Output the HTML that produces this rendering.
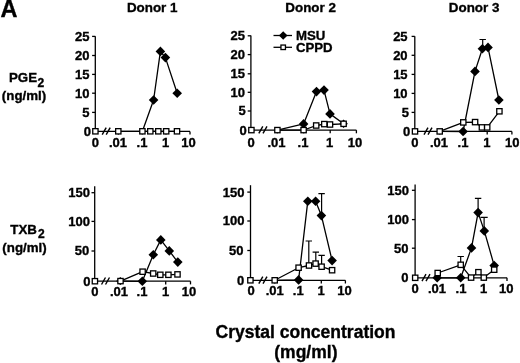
<!DOCTYPE html>
<html><head><meta charset="utf-8"><title>Figure</title>
<style>
html,body{margin:0;padding:0;background:#fff;}
body{width:520px;height:363px;overflow:hidden;}
svg{display:block;}
text{font-family:"Liberation Sans", Arial, Helvetica, sans-serif;font-weight:bold;fill:#000;stroke:#000;stroke-width:0.35px;}
.tl{font-size:13px;}
.lg{font-size:13.2px;}
.hd{font-size:13.4px;}
.yl{font-size:13.3px;}
.xt{font-size:17.5px;}
.big{font-size:23.5px;}
</style></head>
<body>
<svg width="520" height="363" viewBox="0 0 520 363">
<rect width="520" height="363" fill="#fff"/>
<text x="0.4" y="17.2" class="big">A</text>
<text x="152.2" y="11.8" text-anchor="middle" class="hd">Donor 1</text>
<text x="310.6" y="11.6" text-anchor="middle" class="hd">Donor 2</text>
<text x="474.1" y="11.8" text-anchor="middle" class="hd">Donor 3</text>
<text x="9" y="82" class="yl">PGE<tspan font-size="12" dx="0.4" dy="4.6">2</tspan></text>
<text x="24" y="99.5" text-anchor="middle" class="yl">(ng/ml)</text>
<text x="10.3" y="234.1" class="yl">TXB<tspan font-size="12" dx="1.2" dy="3.6">2</tspan></text>
<text x="24.5" y="252.3" text-anchor="middle" class="yl">(ng/ml)</text>
<text x="305.5" y="337.7" text-anchor="middle" class="xt">Crystal concentration</text>
<text x="305.9" y="357.5" text-anchor="middle" class="xt">(mg/ml)</text>
<path d="M95.3 36.2V131.4" stroke="#000" stroke-width="1.3" fill="none"/>
<text x="91" y="135.8" text-anchor="end" class="tl">0</text>
<path d="M92.1 112.4H95.3" stroke="#000" stroke-width="1.3"/>
<text x="89.4" y="116.8" text-anchor="end" class="tl">5</text>
<path d="M92.1 93.2H95.3" stroke="#000" stroke-width="1.3"/>
<text x="89.4" y="97.6" text-anchor="end" class="tl">10</text>
<path d="M92.1 74.4H95.3" stroke="#000" stroke-width="1.3"/>
<text x="89.4" y="78.8" text-anchor="end" class="tl">15</text>
<path d="M92.1 55.5H95.3" stroke="#000" stroke-width="1.3"/>
<text x="89.4" y="59.9" text-anchor="end" class="tl">20</text>
<path d="M92.1 36.4H95.3" stroke="#000" stroke-width="1.3"/>
<text x="89.4" y="40.8" text-anchor="end" class="tl">25</text>
<path d="M95.3 131.4H190" stroke="#000" stroke-width="1.3" fill="none"/>
<path d="M118.4 131.4V134.6" stroke="#000" stroke-width="1.3"/>
<path d="M142.3 131.4V134.6" stroke="#000" stroke-width="1.3"/>
<path d="M166 131.4V134.6" stroke="#000" stroke-width="1.3"/>
<path d="M190 131.4V134.6" stroke="#000" stroke-width="1.3"/>
<path d="M102.2 134.7L106.2 127.7" stroke="#000" stroke-width="1.4"/>
<path d="M106.2 134.7L110.2 127.7" stroke="#000" stroke-width="1.4"/>
<text x="95.3" y="146.8" text-anchor="middle" class="tl">0</text>
<text x="118" y="146.8" text-anchor="middle" class="tl">.01</text>
<text x="142" y="146.8" text-anchor="middle" class="tl">.1</text>
<text x="165.5" y="146.8" text-anchor="middle" class="tl">1</text>
<text x="188.5" y="146.8" text-anchor="middle" class="tl">10</text>
<polyline points="142.4,131.3 153.6,100 160.4,51.4 165.4,57.6 177.2,93.2" fill="none" stroke="#000" stroke-width="1.3" stroke-linejoin="round"/>
<polyline points="118.3,131.3 142.4,131.3 150.3,131.3 158.3,131.3 166.2,131.3 177,131.3" fill="none" stroke="#000" stroke-width="1.3" stroke-linejoin="round"/>
<path d="M153.6 95.2L158.4 100L153.6 104.8L148.8 100Z" fill="#000"/>
<path d="M160.4 46.6L165.2 51.4L160.4 56.2L155.6 51.4Z" fill="#000"/>
<path d="M165.4 52.8L170.2 57.6L165.4 62.4L160.6 57.6Z" fill="#000"/>
<path d="M177.2 88.4L182 93.2L177.2 98L172.4 93.2Z" fill="#000"/>
<rect x="92.75" y="128.65" width="5.3" height="5.3" fill="#fff" stroke="#000" stroke-width="1.3"/>
<rect x="115.65" y="128.65" width="5.3" height="5.3" fill="#fff" stroke="#000" stroke-width="1.3"/>
<rect x="139.75" y="128.65" width="5.3" height="5.3" fill="#fff" stroke="#000" stroke-width="1.3"/>
<rect x="147.65" y="128.65" width="5.3" height="5.3" fill="#fff" stroke="#000" stroke-width="1.3"/>
<rect x="155.65" y="128.65" width="5.3" height="5.3" fill="#fff" stroke="#000" stroke-width="1.3"/>
<rect x="163.55" y="128.65" width="5.3" height="5.3" fill="#fff" stroke="#000" stroke-width="1.3"/>
<rect x="174.35" y="128.65" width="5.3" height="5.3" fill="#fff" stroke="#000" stroke-width="1.3"/>
<path d="M250.9 35.5V130.1" stroke="#000" stroke-width="1.3" fill="none"/>
<text x="246.8" y="134.5" text-anchor="end" class="tl">0</text>
<path d="M247.7 111H250.9" stroke="#000" stroke-width="1.3"/>
<text x="245.7" y="115.4" text-anchor="end" class="tl">5</text>
<path d="M247.7 92.3H250.9" stroke="#000" stroke-width="1.3"/>
<text x="244.9" y="96.7" text-anchor="end" class="tl">10</text>
<path d="M247.7 73.8H250.9" stroke="#000" stroke-width="1.3"/>
<text x="244.9" y="78.2" text-anchor="end" class="tl">15</text>
<path d="M247.7 54.6H250.9" stroke="#000" stroke-width="1.3"/>
<text x="244.9" y="59" text-anchor="end" class="tl">20</text>
<path d="M247.7 35.8H250.9" stroke="#000" stroke-width="1.3"/>
<text x="244.9" y="40.2" text-anchor="end" class="tl">25</text>
<path d="M250.9 130.1H356.4" stroke="#000" stroke-width="1.3" fill="none"/>
<path d="M277.4 130.1V133.3" stroke="#000" stroke-width="1.3"/>
<path d="M303.6 130.1V133.3" stroke="#000" stroke-width="1.3"/>
<path d="M330.2 130.1V133.3" stroke="#000" stroke-width="1.3"/>
<path d="M356.4 130.1V133.3" stroke="#000" stroke-width="1.3"/>
<path d="M258.8 133.4L262.8 126.4" stroke="#000" stroke-width="1.4"/>
<path d="M263 133.4L267 126.4" stroke="#000" stroke-width="1.4"/>
<text x="251" y="146.8" text-anchor="middle" class="tl">0</text>
<text x="276.5" y="146.8" text-anchor="middle" class="tl">.01</text>
<text x="303" y="146.8" text-anchor="middle" class="tl">.1</text>
<text x="329.5" y="146.8" text-anchor="middle" class="tl">1</text>
<text x="355" y="146.8" text-anchor="middle" class="tl">10</text>
<polyline points="277.4,130.1 303.6,123.9 316.5,91.6 324,90.1 330,113.9 343.6,123.8" fill="none" stroke="#000" stroke-width="1.3" stroke-linejoin="round"/>
<polyline points="277.4,130.1 303.6,130.1 316.2,125.5 324.3,124.1 330,124.5 343.6,123.8" fill="none" stroke="#000" stroke-width="1.3" stroke-linejoin="round"/>
<path d="M303.6 119.1L308.4 123.9L303.6 128.7L298.8 123.9Z" fill="#000"/>
<path d="M316.5 86.8L321.3 91.6L316.5 96.4L311.7 91.6Z" fill="#000"/>
<path d="M324 85.3L328.8 90.1L324 94.9L319.2 90.1Z" fill="#000"/>
<path d="M330 109.1L334.8 113.9L330 118.7L325.2 113.9Z" fill="#000"/>
<path d="M343.6 119.6L347.8 123.8L343.6 128L339.4 123.8Z" fill="#000"/>
<rect x="248.75" y="127.45" width="5.3" height="5.3" fill="#fff" stroke="#000" stroke-width="1.3"/>
<rect x="274.75" y="127.45" width="5.3" height="5.3" fill="#fff" stroke="#000" stroke-width="1.3"/>
<rect x="300.95" y="127.45" width="5.3" height="5.3" fill="#fff" stroke="#000" stroke-width="1.3"/>
<rect x="313.55" y="122.85" width="5.3" height="5.3" fill="#fff" stroke="#000" stroke-width="1.3"/>
<rect x="321.65" y="121.45" width="5.3" height="5.3" fill="#fff" stroke="#000" stroke-width="1.3"/>
<rect x="327.35" y="121.85" width="5.3" height="5.3" fill="#fff" stroke="#000" stroke-width="1.3"/>
<rect x="340.95" y="121.15" width="5.3" height="5.3" fill="#fff" stroke="#000" stroke-width="1.3"/>
<path d="M414.8 36.3V131.4" stroke="#000" stroke-width="1.3" fill="none"/>
<text x="410.2" y="135.8" text-anchor="end" class="tl">0</text>
<path d="M411.6 112.4H414.8" stroke="#000" stroke-width="1.3"/>
<text x="408.9" y="116.8" text-anchor="end" class="tl">5</text>
<path d="M411.6 93.4H414.8" stroke="#000" stroke-width="1.3"/>
<text x="407.6" y="97.8" text-anchor="end" class="tl">10</text>
<path d="M411.6 74.4H414.8" stroke="#000" stroke-width="1.3"/>
<text x="407.6" y="78.8" text-anchor="end" class="tl">15</text>
<path d="M411.6 55.3H414.8" stroke="#000" stroke-width="1.3"/>
<text x="407.6" y="59.7" text-anchor="end" class="tl">20</text>
<path d="M411.6 36.4H414.8" stroke="#000" stroke-width="1.3"/>
<text x="407.6" y="40.8" text-anchor="end" class="tl">25</text>
<path d="M414.8 131.4H511.9" stroke="#000" stroke-width="1.3" fill="none"/>
<path d="M439.7 131.4V134.6" stroke="#000" stroke-width="1.3"/>
<path d="M463.3 131.4V134.6" stroke="#000" stroke-width="1.3"/>
<path d="M487.2 131.4V134.6" stroke="#000" stroke-width="1.3"/>
<path d="M511.9 131.4V134.6" stroke="#000" stroke-width="1.3"/>
<path d="M424 134.7L428 127.7" stroke="#000" stroke-width="1.4"/>
<path d="M428 134.7L432 127.7" stroke="#000" stroke-width="1.4"/>
<text x="414.8" y="147.2" text-anchor="middle" class="tl">0</text>
<text x="439" y="147.2" text-anchor="middle" class="tl">.01</text>
<text x="463" y="147.2" text-anchor="middle" class="tl">.1</text>
<text x="486.8" y="147.2" text-anchor="middle" class="tl">1</text>
<text x="512.2" y="147.2" text-anchor="middle" class="tl">10</text>
<path d="M482.7 48.8V39.5M479.5 39.5H485.9" stroke="#000" stroke-width="1.2" fill="none"/>
<polyline points="439.7,131.4 463.1,131.5 475,71.4 482.4,48.8 488,47.4 498.9,100" fill="none" stroke="#000" stroke-width="1.3" stroke-linejoin="round"/>
<polyline points="439.7,131.4 463.3,122.4 475.1,122.1 481.9,127.4 487.2,127.4 499.4,111.3" fill="none" stroke="#000" stroke-width="1.3" stroke-linejoin="round"/>
<path d="M463.1 126.7L467.9 131.5L463.1 136.3L458.3 131.5Z" fill="#000"/>
<path d="M475 66.6L479.8 71.4L475 76.2L470.2 71.4Z" fill="#000"/>
<path d="M482.4 44L487.2 48.8L482.4 53.6L477.6 48.8Z" fill="#000"/>
<path d="M488 42.6L492.8 47.4L488 52.2L483.2 47.4Z" fill="#000"/>
<path d="M498.9 95.2L503.7 100L498.9 104.8L494.1 100Z" fill="#000"/>
<rect x="412.35" y="128.75" width="5.3" height="5.3" fill="#fff" stroke="#000" stroke-width="1.3"/>
<rect x="437.05" y="128.75" width="5.3" height="5.3" fill="#fff" stroke="#000" stroke-width="1.3"/>
<rect x="460.65" y="119.75" width="5.3" height="5.3" fill="#fff" stroke="#000" stroke-width="1.3"/>
<rect x="472.45" y="119.45" width="5.3" height="5.3" fill="#fff" stroke="#000" stroke-width="1.3"/>
<rect x="479.25" y="124.75" width="5.3" height="5.3" fill="#fff" stroke="#000" stroke-width="1.3"/>
<rect x="484.55" y="124.75" width="5.3" height="5.3" fill="#fff" stroke="#000" stroke-width="1.3"/>
<rect x="496.75" y="108.65" width="5.3" height="5.3" fill="#fff" stroke="#000" stroke-width="1.3"/>
<path d="M94.7 186.2V281.2" stroke="#000" stroke-width="1.3" fill="none"/>
<text x="90.6" y="285.6" text-anchor="end" class="tl">0</text>
<path d="M91.5 251H94.7" stroke="#000" stroke-width="1.3"/>
<text x="89.2" y="255.4" text-anchor="end" class="tl">50</text>
<path d="M91.5 221.4H94.7" stroke="#000" stroke-width="1.3"/>
<text x="90" y="225.8" text-anchor="end" class="tl">100</text>
<path d="M91.5 192.7H94.7" stroke="#000" stroke-width="1.3"/>
<text x="90" y="197.1" text-anchor="end" class="tl">150</text>
<path d="M94.7 281.2H190.5" stroke="#000" stroke-width="1.3" fill="none"/>
<path d="M120.5 281.2V284.4" stroke="#000" stroke-width="1.3"/>
<path d="M142.5 281.2V284.4" stroke="#000" stroke-width="1.3"/>
<path d="M165.7 281.2V284.4" stroke="#000" stroke-width="1.3"/>
<path d="M190.5 281.2V284.4" stroke="#000" stroke-width="1.3"/>
<path d="M101.5 284.5L105.5 277.5" stroke="#000" stroke-width="1.4"/>
<path d="M105.5 284.5L109.5 277.5" stroke="#000" stroke-width="1.4"/>
<text x="94.8" y="295.8" text-anchor="middle" class="tl">0</text>
<text x="119" y="295.8" text-anchor="middle" class="tl">.01</text>
<text x="142" y="295.8" text-anchor="middle" class="tl">.1</text>
<text x="165.5" y="295.8" text-anchor="middle" class="tl">1</text>
<text x="189" y="295.8" text-anchor="middle" class="tl">10</text>
<polyline points="120.5,281.1 142.3,281.3 153.3,254.7 160.8,239.9 169.3,250.9 177.8,262.1" fill="none" stroke="#000" stroke-width="1.3" stroke-linejoin="round"/>
<polyline points="120.5,281.1 142.6,271.7 153.2,273.5 160.3,274.8 168.4,274.8 177.5,274.4" fill="none" stroke="#000" stroke-width="1.3" stroke-linejoin="round"/>
<path d="M120.3 276.9L124.4 281L120.3 285.1L116.2 281Z" fill="#000"/>
<path d="M142.3 276.5L147.1 281.3L142.3 286.1L137.5 281.3Z" fill="#000"/>
<path d="M153.3 249.9L158.1 254.7L153.3 259.5L148.5 254.7Z" fill="#000"/>
<path d="M160.8 235.1L165.6 239.9L160.8 244.7L156 239.9Z" fill="#000"/>
<path d="M169.3 246.1L174.1 250.9L169.3 255.7L164.5 250.9Z" fill="#000"/>
<path d="M177.8 257.3L182.6 262.1L177.8 266.9L173 262.1Z" fill="#000"/>
<rect x="92.25" y="278.55" width="5.3" height="5.3" fill="#fff" stroke="#000" stroke-width="1.3"/>
<rect x="117.85" y="278.45" width="5.3" height="5.3" fill="#fff" stroke="#000" stroke-width="1.3"/>
<rect x="139.95" y="269.05" width="5.3" height="5.3" fill="#fff" stroke="#000" stroke-width="1.3"/>
<rect x="150.55" y="270.85" width="5.3" height="5.3" fill="#fff" stroke="#000" stroke-width="1.3"/>
<rect x="157.65" y="272.15" width="5.3" height="5.3" fill="#fff" stroke="#000" stroke-width="1.3"/>
<rect x="165.75" y="272.15" width="5.3" height="5.3" fill="#fff" stroke="#000" stroke-width="1.3"/>
<rect x="174.85" y="271.75" width="5.3" height="5.3" fill="#fff" stroke="#000" stroke-width="1.3"/>
<path d="M250.5 185.2V280.3" stroke="#000" stroke-width="1.3" fill="none"/>
<text x="244.2" y="284.7" text-anchor="end" class="tl">0</text>
<path d="M247.3 250.5H250.5" stroke="#000" stroke-width="1.3"/>
<text x="243.5" y="254.9" text-anchor="end" class="tl">50</text>
<path d="M247.3 221H250.5" stroke="#000" stroke-width="1.3"/>
<text x="244.5" y="225.4" text-anchor="end" class="tl">100</text>
<path d="M247.3 192.1H250.5" stroke="#000" stroke-width="1.3"/>
<text x="244.5" y="196.5" text-anchor="end" class="tl">150</text>
<path d="M250.5 280.3H345.4" stroke="#000" stroke-width="1.3" fill="none"/>
<path d="M274.7 280.3V283.5" stroke="#000" stroke-width="1.3"/>
<path d="M298.6 280.3V283.5" stroke="#000" stroke-width="1.3"/>
<path d="M321.3 280.3V283.5" stroke="#000" stroke-width="1.3"/>
<path d="M345.4 280.3V283.5" stroke="#000" stroke-width="1.3"/>
<path d="M258.8 283.6L262.8 276.6" stroke="#000" stroke-width="1.4"/>
<path d="M263 283.6L267 276.6" stroke="#000" stroke-width="1.4"/>
<text x="251.1" y="294.7" text-anchor="middle" class="tl">0</text>
<text x="274.8" y="294.7" text-anchor="middle" class="tl">.01</text>
<text x="298.2" y="294.7" text-anchor="middle" class="tl">.1</text>
<text x="321.2" y="294.7" text-anchor="middle" class="tl">1</text>
<text x="344.6" y="294.7" text-anchor="middle" class="tl">10</text>
<path d="M308.8 265.5V241M305.6 241H312" stroke="#000" stroke-width="1.2" fill="none"/>
<path d="M315.8 263.6V252.2M312.6 252.2H319" stroke="#000" stroke-width="1.2" fill="none"/>
<path d="M321.6 266.7V255.4M318.4 255.4H324.8" stroke="#000" stroke-width="1.2" fill="none"/>
<path d="M321.6 215.6V193.6M318.4 193.6H324.8" stroke="#000" stroke-width="1.2" fill="none"/>
<polyline points="274.7,280.3 298.6,279.9 307.8,201.2 315.6,201.2 321.4,215.6 332.1,260.6" fill="none" stroke="#000" stroke-width="1.3" stroke-linejoin="round"/>
<polyline points="274.7,280.3 298.6,267.7 309,265.5 315.6,263.6 321.6,266.7 332.1,270.2" fill="none" stroke="#000" stroke-width="1.3" stroke-linejoin="round"/>
<path d="M298.6 275.1L303.4 279.9L298.6 284.7L293.8 279.9Z" fill="#000"/>
<path d="M307.8 196.4L312.6 201.2L307.8 206L303 201.2Z" fill="#000"/>
<path d="M315.6 196.4L320.4 201.2L315.6 206L310.8 201.2Z" fill="#000"/>
<path d="M321.4 210.8L326.2 215.6L321.4 220.4L316.6 215.6Z" fill="#000"/>
<path d="M332.1 255.8L336.9 260.6L332.1 265.4L327.3 260.6Z" fill="#000"/>
<rect x="247.75" y="277.65" width="5.3" height="5.3" fill="#fff" stroke="#000" stroke-width="1.3"/>
<rect x="272.05" y="277.65" width="5.3" height="5.3" fill="#fff" stroke="#000" stroke-width="1.3"/>
<rect x="295.95" y="265.05" width="5.3" height="5.3" fill="#fff" stroke="#000" stroke-width="1.3"/>
<rect x="306.35" y="262.85" width="5.3" height="5.3" fill="#fff" stroke="#000" stroke-width="1.3"/>
<rect x="312.95" y="260.95" width="5.3" height="5.3" fill="#fff" stroke="#000" stroke-width="1.3"/>
<rect x="318.95" y="264.05" width="5.3" height="5.3" fill="#fff" stroke="#000" stroke-width="1.3"/>
<rect x="329.45" y="267.55" width="5.3" height="5.3" fill="#fff" stroke="#000" stroke-width="1.3"/>
<path d="M415.1 184.4V277.8" stroke="#000" stroke-width="1.3" fill="none"/>
<text x="408.6" y="282.2" text-anchor="end" class="tl">0</text>
<path d="M411.9 248.2H415.1" stroke="#000" stroke-width="1.3"/>
<text x="408.5" y="252.6" text-anchor="end" class="tl">50</text>
<path d="M411.9 219.6H415.1" stroke="#000" stroke-width="1.3"/>
<text x="408.9" y="224" text-anchor="end" class="tl">100</text>
<path d="M411.9 190.3H415.1" stroke="#000" stroke-width="1.3"/>
<text x="408.9" y="194.7" text-anchor="end" class="tl">150</text>
<path d="M415.1 277.8H507" stroke="#000" stroke-width="1.3" fill="none"/>
<path d="M437.5 277.8V281" stroke="#000" stroke-width="1.3"/>
<path d="M460.7 277.8V281" stroke="#000" stroke-width="1.3"/>
<path d="M483.8 277.8V281" stroke="#000" stroke-width="1.3"/>
<path d="M507 277.8V281" stroke="#000" stroke-width="1.3"/>
<path d="M422 281.1L426 274.1" stroke="#000" stroke-width="1.4"/>
<path d="M426 281.1L430 274.1" stroke="#000" stroke-width="1.4"/>
<text x="415.1" y="293.3" text-anchor="middle" class="tl">0</text>
<text x="437" y="293.3" text-anchor="middle" class="tl">.01</text>
<text x="461" y="293.3" text-anchor="middle" class="tl">.1</text>
<text x="483.5" y="293.3" text-anchor="middle" class="tl">1</text>
<text x="506.3" y="293.3" text-anchor="middle" class="tl">10</text>
<path d="M460.7 264.8V256.5M457.5 256.5H463.9" stroke="#000" stroke-width="1.2" fill="none"/>
<path d="M478.1 212.6V198.4M474.9 198.4H481.3" stroke="#000" stroke-width="1.2" fill="none"/>
<path d="M484.1 230.9V217.4M480.5 217.4H487.7" stroke="#000" stroke-width="1.2" fill="none"/>
<polyline points="437.2,277.8 460.7,277.8 471.5,247.9 478.1,212.6 484.3,230.9 494.2,265.6" fill="none" stroke="#000" stroke-width="1.3" stroke-linejoin="round"/>
<polyline points="437.7,273 460.7,264.8 471.1,277.6 478.4,272.2 483.8,277.6 494.2,269.7" fill="none" stroke="#000" stroke-width="1.3" stroke-linejoin="round"/>
<path d="M437.2 273L442 277.8L437.2 282.6L432.4 277.8Z" fill="#000"/>
<path d="M460.7 273L465.5 277.8L460.7 282.6L455.9 277.8Z" fill="#000"/>
<path d="M471.5 243.1L476.3 247.9L471.5 252.7L466.7 247.9Z" fill="#000"/>
<path d="M478.1 207.8L482.9 212.6L478.1 217.4L473.3 212.6Z" fill="#000"/>
<path d="M484.3 226.1L489.1 230.9L484.3 235.7L479.5 230.9Z" fill="#000"/>
<path d="M494.2 260.8L499 265.6L494.2 270.4L489.4 265.6Z" fill="#000"/>
<rect x="412.55" y="275.15" width="5.3" height="5.3" fill="#fff" stroke="#000" stroke-width="1.3"/>
<rect x="435.05" y="270.35" width="5.3" height="5.3" fill="#fff" stroke="#000" stroke-width="1.3"/>
<rect x="458.05" y="262.15" width="5.3" height="5.3" fill="#fff" stroke="#000" stroke-width="1.3"/>
<rect x="468.45" y="274.95" width="5.3" height="5.3" fill="#fff" stroke="#000" stroke-width="1.3"/>
<rect x="475.75" y="269.55" width="5.3" height="5.3" fill="#fff" stroke="#000" stroke-width="1.3"/>
<rect x="481.15" y="274.95" width="5.3" height="5.3" fill="#fff" stroke="#000" stroke-width="1.3"/>
<rect x="491.55" y="267.05" width="5.3" height="5.3" fill="#fff" stroke="#000" stroke-width="1.3"/>
<path d="M273.5 35.5H292" stroke="#000" stroke-width="1.3"/>
<path d="M283.2 31.2L287.5 35.5L283.2 39.8L278.9 35.5Z" fill="#000"/>
<path d="M273.5 47.3H292" stroke="#000" stroke-width="1.3"/>
<rect x="280.95" y="45.05" width="4.5" height="4.5" fill="#fff" stroke="#000" stroke-width="1.3"/>
<text x="296" y="39.8" class="lg">MSU</text>
<text x="296" y="52" class="lg">CPPD</text>
</svg>
</body></html>
